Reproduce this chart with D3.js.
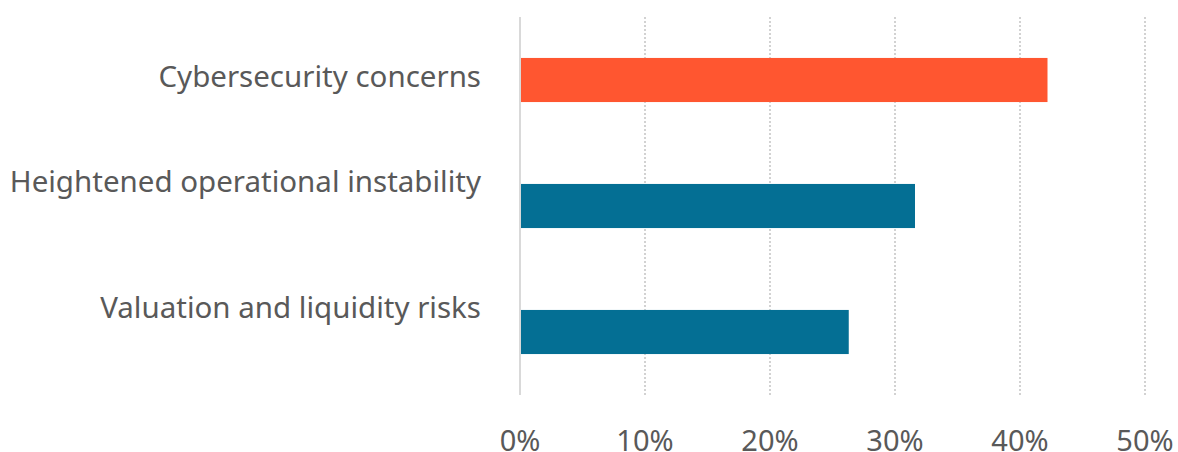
<!DOCTYPE html>
<html>
<head>
<meta charset="utf-8">
<style>
  body { margin: 0; background: #fff; }
  svg { display: block; }
  text { font-family: "Noto Sans", sans-serif; fill: #595959; }
</style>
</head>
<body>
<svg id="chart"></svg>
<script src="https://d3js.org/d3.v7.min.js"></script>
<script>

  var categories = ["Cybersecurity concerns", "Heightened operational instability", "Valuation and liquidity risks"];
  var values = [0.422, 0.316, 0.263];
  var barColors = ["#ff5630", "#046f94", "#046f94"];
  var ticks = [0, 0.1, 0.2, 0.3, 0.4, 0.5];
  var tickLabels = ["0%", "10%", "20%", "30%", "40%", "50%"];

  var width = 1178, height = 452;

  // the source nudges its category labels unevenly against the bars
  var labelNudge = [7, -14.5, -14];

  var svg = d3.select("#chart")
    .attr("width", width)
    .attr("height", height);

  var xScale = d3.scaleLinear()
    .domain([0, 0.5])
    .range([520, 1145]);

  var yScale = d3.scaleBand()
    .domain(categories)
    .range([17, 395])
    .paddingInner(0.65)
    .paddingOuter(0.325);

  // dotted gridlines
  svg.selectAll("line.grid")
    .data(ticks.slice(1))
    .enter().append("line")
    .attr("class", "grid")
    .attr("x1", function(d) { return xScale(d); })
    .attr("x2", function(d) { return xScale(d); })
    .attr("y1", 17)
    .attr("y2", 395)
    .attr("stroke", "#c4c4c4")
    .attr("stroke-width", 1.5)
    .attr("stroke-dasharray", "2,2");

  // bars
  svg.selectAll("rect")
    .data(values)
    .enter().append("rect")
    .attr("x", xScale(0))
    .attr("y", function(d, i) { return yScale(categories[i]); })
    .attr("width", function(d) { return xScale(d) - xScale(0); })
    .attr("height", yScale.bandwidth())
    .attr("fill", function(d, i) { return barColors[i]; });

  // vertical axis line
  svg.append("line")
    .attr("x1", xScale(0))
    .attr("x2", xScale(0))
    .attr("y1", 17)
    .attr("y2", 395)
    .attr("stroke", "#d9d9d9")
    .attr("stroke-width", 2);

  // category labels
  svg.selectAll("text.cat")
    .data(categories)
    .enter().append("text")
    .attr("class", "cat")
    .attr("x", 481)
    .attr("y", function(d, i) { return yScale(d) + yScale.bandwidth() / 2 + labelNudge[i]; })
    .attr("text-anchor", "end")
    .style("font-size", "29.5px")
    .text(function(d) { return d; });

  // x tick labels
  svg.selectAll("text.tick")
    .data(ticks)
    .enter().append("text")
    .attr("class", "tick")
    .attr("x", function(d) { return xScale(d); })
    .attr("y", 451)
    .attr("text-anchor", "middle")
    .style("font-size", "29px")
    .text(function(d, i) { return tickLabels[i]; });

</script>
</body>
</html>
